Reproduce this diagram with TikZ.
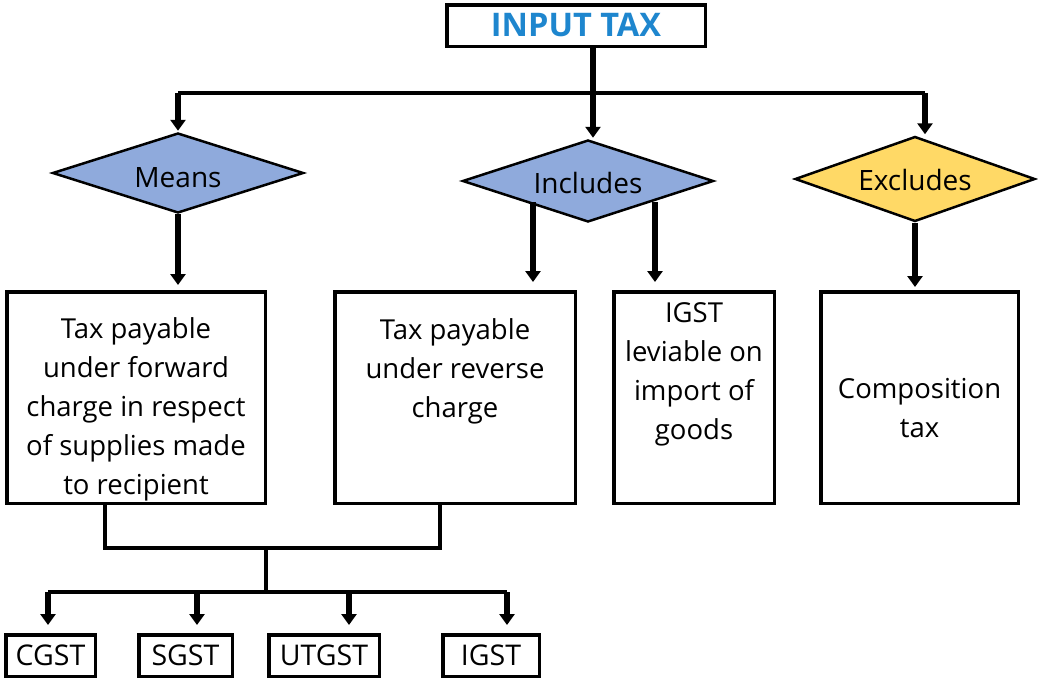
\documentclass[tikz,border=0pt]{standalone}
\usepackage{fontspec}
\setmainfont{Open Sans}
\usetikzlibrary{shapes.geometric,arrows.meta,calc}
\definecolor{diablue}{RGB}{143,170,220}
\definecolor{diayellow}{RGB}{255,217,102}
\definecolor{titleblue}{RGB}{30,134,206}
\begin{document}
\begin{tikzpicture}[x=1pt,y=-1pt,
  box/.style={draw,line width=3.5pt,inner sep=0pt,minimum height=211.5pt},
  sbox/.style={draw,line width=3.5pt,inner sep=0pt,minimum height=41.5pt,font=\fontsize{28.5}{32}\selectfont},
  txt/.style={align=center,inner sep=0pt,font=\fontsize{27.5}{39}\selectfont},
  dtxt/.style={inner sep=0pt,font=\fontsize{28}{32}\selectfont},
  dia/.style={diamond,draw,line width=2.5pt,inner sep=0pt},
  arr/.style={line width=5.5pt,-{Triangle[width=15pt,length=11pt]}},
  conn/.style={line width=3.5pt},
  stem/.style={line width=6.5pt}]
\useasboundingbox (0,0) rectangle (1038,680);

% title
\node[draw,line width=3.5pt,minimum width=258.5pt,minimum height=41.5pt,inner sep=0pt,
      font=\fontsize{32.5}{36}\bfseries\selectfont,text=titleblue] (top) at (576,25.5) {INPUT TAX};

% diamonds
\node[dia,fill=diablue,minimum width=251pt,minimum height=80pt] (means) at (178,173) {};
\node[dtxt] (meanst) at (178,178) {Means};
\node[dia,fill=diablue,minimum width=251pt,minimum height=82pt] (inc) at (588,181) {};
\node[dtxt] (inct) at (588,183) {Includes};
\node[dia,fill=diayellow,minimum width=240pt,minimum height=85pt] (exc) at (915,179) {};
\node[dtxt] (exct) at (915,180) {Excludes};

% big boxes
\node[box,minimum width=258.5pt] (b1) at (136,397.5) {};
\node[txt] (b1t) at (136,409) {Tax payable\\under forward\\charge in respect\\of supplies made\\to recipient};
\node[box,minimum width=240.5pt] (b2) at (455,397.5) {};
\node[txt] (b2t) at (455,371) {Tax payable\\under reverse\\charge};
\node[box,minimum width=160.5pt] (b3) at (694,397.5) {};
\node[txt] (b3t) at (694,374) {IGST\\leviable on\\import of\\goods};
\node[box,minimum width=197.5pt] (b4) at (919.5,397.5) {};
\node[txt] (b4t) at (919.5,408) {Composition\\tax};

% small boxes
\node[sbox,minimum width=89.5pt] (cgst) at (50.5,655.5) {CGST};
\node[sbox,minimum width=93.5pt] (sgst) at (185.5,655.5) {SGST};
\node[sbox,minimum width=110.5pt] (utgst) at (324,655.5) {UTGST};
\node[sbox,minimum width=96.5pt] (igst) at (491,655.5) {IGST};

% top connectors
\coordinate (hL) at (178,93);
\coordinate (hM) at (593,93);
\coordinate (hR) at (925,93);
\draw[conn] (hL) -- (hR);
\draw[stem] (top.south -| hM) -- (hM);
\draw[arr,shorten >=1pt] (hM) -- (hM |- inc.north);
\draw[arr,shorten >=1pt] (hL) -- (means.north);
\draw[arr,shorten >=1pt] (hR) -- (hR |- exc.north);

% diamond to boxes
\draw[arr,shorten >=5pt] (means.south) -- (means.south |- b1.north);
\coordinate (i1) at (533,202);
\coordinate (i2) at (655,202);
\draw[arr,shorten >=8pt] (i1) -- (i1 |- b2.north);
\draw[arr,shorten >=8pt] (i2) -- (i2 |- b3.north);
\draw[arr,shorten >=3pt] (exc.south) -- (exc.south |- b4.north);

% bottom connectors
\coordinate (m1) at (105,548);
\coordinate (m2) at (440,548);
\coordinate (m0) at (266,548);
\coordinate (h2) at (266,592);
\coordinate (a1) at (48,592);
\coordinate (a2) at (197,592);
\coordinate (a3) at (349,592);
\coordinate (a4) at (507,592);
\draw[conn] (m1 |- b1.south) -- (m1) -- (m2) -- (m2 |- b2.south);
\draw[conn] (m0) -- (h2);
\draw[conn] (a1) -- (a4);
\draw[arr,shorten >=8pt] (a1) -- (a1 |- cgst.north);
\draw[arr,shorten >=8pt] (a2) -- (a2 |- sgst.north);
\draw[arr,shorten >=8pt] (a3) -- (a3 |- utgst.north);
\draw[arr,shorten >=8pt] (a4) -- (a4 |- igst.north);
\end{tikzpicture}
\end{document}
